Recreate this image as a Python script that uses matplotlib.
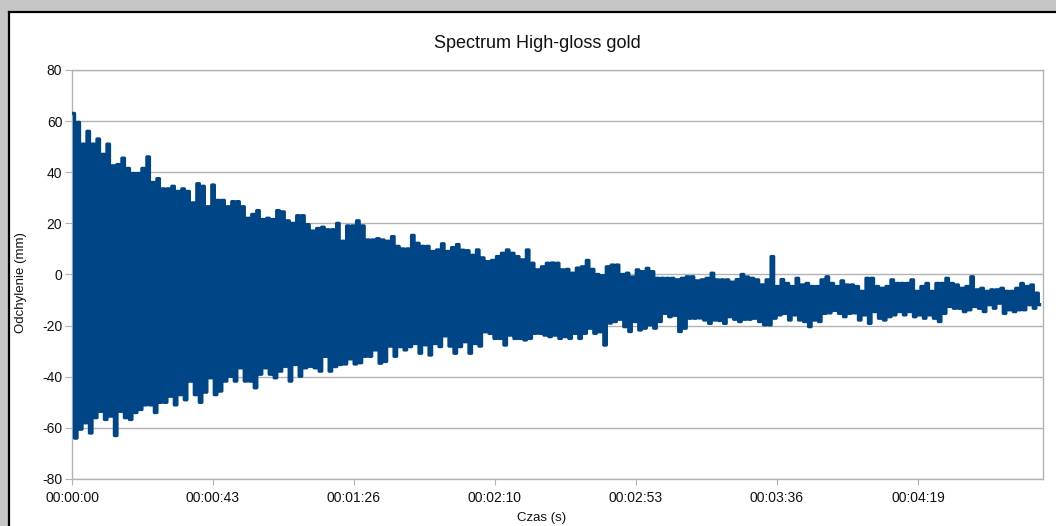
import numpy as np
import matplotlib
matplotlib.use('Agg')
import matplotlib.pyplot as plt
from matplotlib.ticker import MultipleLocator, FuncFormatter
from matplotlib.patches import Rectangle
from matplotlib.lines import Line2D

plt.rcParams['font.family'] = ['Liberation Sans', 'DejaVu Sans']
plt.rcParams['axes.unicode_minus'] = False

title = 'Spectrum High-gloss gold'
xlabel = 'Czas (s)'
ylabel = 'Odchylenie (mm)'

# one swing every ~1.53 s; peak (upper) and trough (lower)
step_s = 1.53
upper = [
    63, 59.5, 51, 56, 51, 53, 47, 51, 42.5, 43,
    45.5, 41.5, 39.5, 39.5, 41.5, 46, 36, 37.5, 33.5, 33.5,
    34.5, 32.5, 33.5, 32.5, 28, 35.5, 34.5, 26.5, 35, 29,
    29, 26.5, 28.5, 28.5, 26.5, 22, 23.5, 25, 21.5, 22,
    21.5, 25, 24.5, 21, 20, 23, 23, 19.5, 17, 18,
    18.5, 17.5, 17.5, 20, 13, 19, 19, 21, 19, 13.5,
    13.5, 14, 13.5, 13, 14.8, 11, 10, 10, 15.3, 12.2,
    11, 11, 9, 9.6, 12, 9, 10.5, 11.7, 9.5, 9.3,
    7.5, 9.6, 6.5, 5, 5.5, 7, 8.3, 9.6, 8.3, 7,
    5.7, 9.6, 4.4, 1.8, 3, 4.4, 4.5, 4.4, 1.8, 2,
    0.5, 2.5, 3, 5.5, 2, 0, -0.5, 3, 3.7, 3.7,
    0, 0.5, -1, 1.8, 1.1, 2.4, 1.1, -1.5, -1.5, -1.5,
    -1.5, -2.1, -1.5, -0.9, -0.9, -2.5, -2.1, -1.5, 0.5, -2.1,
    -2.1, -2.1, -3, -2, 0, -1, -1.5, -2.1, -4.1, -2.1,
    7, -4.7, -2, -3.5, -4.7, -1.5, -4.1, -3.5, -4.7, -4.7,
    -2.1, -0.9, -3.5, -4.7, -2.5, -4.1, -4.1, -4.7, -6.6, -1.5,
    -1.5, -4.7, -5.4, -4.7, -2.1, -3.5, -3.5, -3.5, -2.1, -6.6,
    -4.7, -3.5, -6.6, -3.5, -3.5, -1.5, -3.5, -4.1, -5.4, -4.7,
    -0.9, -6, -5.4, -6.6, -6, -6, -5.4, -6.6, -6.6, -5.4,
    -3.5, -4.7, -4.1, -7.3,
]
lower = [
    -64, -60.5, -58, -62, -56, -53.5, -56.7, -55.4, -63, -53.5,
    -56, -56.7, -54, -52.8, -51, -51, -54, -50, -50, -47.6,
    -51, -47, -49, -41.7, -47, -50, -46, -40.4, -47, -45.6,
    -41.7, -39.8, -41.7, -36.5, -41.7, -41.7, -44.3, -39, -36.5, -39,
    -40.4, -37.8, -35.9, -41.7, -35.2, -39.8, -36.5, -35.9, -36.5, -37.8,
    -32, -37.8, -36, -35.2, -35, -33, -35, -34.5, -32, -32,
    -29.5, -34.7, -34, -28, -32, -28.2, -29.5, -28.2, -27, -30.8,
    -27.5, -31.5, -27, -28.2, -24, -28, -30.8, -28.2, -26.3, -30.8,
    -27, -28, -22.4, -23, -25, -25, -27.6, -23.7, -25, -25,
    -25.6, -25, -23, -23, -23.7, -24.3, -23.7, -25, -24.3, -25,
    -23, -25, -23, -21, -23, -22.4, -27.6, -19, -18.4, -17.5,
    -20.4, -22.3, -18.4, -21.7, -21, -19.7, -21, -18.4, -15.2, -16.5,
    -16, -22.3, -21, -17.1, -17.1, -17, -17.8, -19.1, -17.8, -18,
    -19.1, -16.5, -17.5, -18.4, -17.5, -17.5, -17.1, -18.4, -19.7, -19.7,
    -17.1, -15.8, -15.2, -17.8, -15.8, -17.8, -18.4, -20.4, -17.8, -18.4,
    -15.2, -15, -14, -15.2, -16.5, -15.2, -15, -17.8, -15.8, -19.1,
    -14.5, -17.1, -17.8, -16.5, -15.8, -14.5, -15.8, -14.5, -16.5, -15.8,
    -17.1, -15.8, -17.1, -18.4, -15.2, -12.5, -13.2, -13.2, -14.5, -13.8,
    -12.5, -13.2, -14.5, -11.8, -13.2, -11.2, -15.2, -13.8, -14.5, -13.8,
    -13.8, -11.8, -13.2, -11.8,
]

n = len(upper)
t = np.empty(2 * n)
y = np.empty(2 * n)
t[0::2] = np.arange(n) * step_s + step_s / 4
t[1::2] = np.arange(n) * step_s + 3 * step_s / 4
y[0::2] = upper
y[1::2] = lower

fig = plt.figure(figsize=(10.56, 5.26), dpi=100)
fig.patch.set_facecolor('white')

# window frame round the chart
W, H = 1056, 526
fig.patches.append(Rectangle((0, 1 - 11 / H), 1, 11 / H, transform=fig.transFigure,
                             facecolor='#c6c6c6', edgecolor='none', zorder=0))
fig.patches.append(Rectangle((0, 0), 8 / W, 1, transform=fig.transFigure,
                             facecolor='#c6c6c6', edgecolor='none', zorder=0))
fig.lines.append(Line2D([8.5 / W, 1], [1 - 12 / H, 1 - 12 / H], transform=fig.transFigure,
                        color='black', lw=1.6))
fig.lines.append(Line2D([8.5 / W, 8.5 / W], [0, 1 - 12 / H], transform=fig.transFigure,
                        color='black', lw=1.6))

ax = fig.add_axes([72 / W, 1 - 479 / H, (1043 - 72) / W, (479 - 70) / H])
ax.plot(t, y, drawstyle='steps-mid', color='#004586', lw=2.4, snap=False, zorder=3)

ax.set_xlim(0, 297.5)
ax.set_ylim(-80, 80)
ax.yaxis.set_major_locator(MultipleLocator(20))
ax.xaxis.set_major_locator(MultipleLocator(43.2))


def hms(v, pos):
    s = int(round(v))
    return f'{s // 3600:02d}:{(s // 60) % 60:02d}:{s % 60:02d}'


ax.xaxis.set_major_formatter(FuncFormatter(hms))
ax.grid(axis='y', color='#b3b3b3', lw=1)
ax.set_axisbelow(True)
for sp in ax.spines.values():
    sp.set_color('#b3b3b3')
    sp.set_linewidth(1)
ax.tick_params(axis='both', color='#b3b3b3', labelsize=10, labelcolor='#111111')
ax.tick_params(axis='y', length=5, pad=2)
ax.tick_params(axis='x', length=4, pad=5)

fig.text(537 / W, 1 - 44 / H, title, ha='center', va='center', fontsize=13, color='#111111')
fig.text(21 / W, 1 - 283 / H, ylabel, ha='center', va='center', rotation=90, fontsize=9.5,
         color='#111111')
fig.text(542 / W, 1 - 518 / H, xlabel, ha='center', va='center', fontsize=9.5, color='#111111')

fig.savefig('out.png', dpi=100)
